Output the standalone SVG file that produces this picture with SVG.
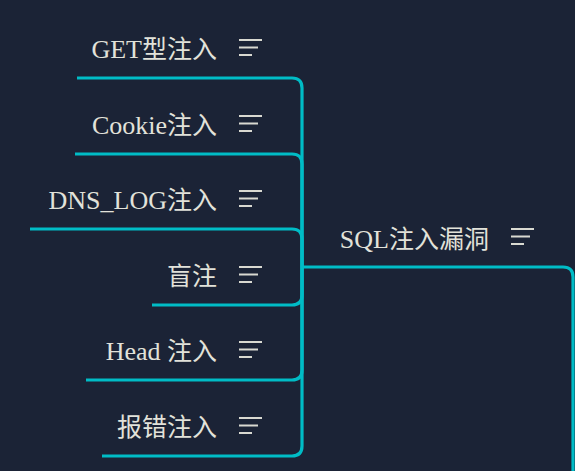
<svg xmlns="http://www.w3.org/2000/svg" width="575" height="471" viewBox="0 0 575 471">
<defs>
<style>
.bg{fill:#1b2336}
.edge{fill:none;stroke:#00bcc6;stroke-width:3.2;stroke-linecap:butt}
.lbl{font-family:"Noto Sans CJK SC","Liberation Serif",serif;font-size:25px;fill:#e2e2da;text-anchor:end}
.lat{font-family:"Liberation Serif","DejaVu Serif",serif;font-size:26px}
.ico{stroke:#d9d9d1;stroke-width:2.2;fill:none}
</style>
<g id="note-icon" class="ico">
<path d="M0,0H23M0,7.5H19M0,15H13"/>
</g>
</defs>
<rect class="bg" x="0" y="0" width="575" height="471"/>
<g id="connectors">
<path class="edge" d="M302,267V88Q302,78 292,78H77"/>
<path class="edge" d="M302,267V164Q302,154 292,154H75"/>
<path class="edge" d="M302,267V239Q302,229 292,229H30"/>
<path class="edge" d="M302,267V295Q302,305 292,305H152"/>
<path class="edge" d="M302,267V370Q302,380 292,380H86"/>
<path class="edge" d="M302,267V446Q302,456 292,456H102"/>
<path class="edge" d="M302,267H563Q573,267 573,277V471"/>
</g>
<g id="root">
<text class="lbl" x="489" y="248"><tspan class="lat">SQL</tspan>注入漏洞</text>
<use href="#note-icon" x="511" y="229"/>
</g>
<g id="n-get">
<text class="lbl" x="217" y="58"><tspan class="lat">GET</tspan>型注入</text>
<use href="#note-icon" x="239" y="40"/>
</g>
<g id="n-cookie">
<text class="lbl" x="217" y="134"><tspan class="lat">Cookie</tspan>注入</text>
<use href="#note-icon" x="239" y="116"/>
</g>
<g id="n-dns">
<text class="lbl" x="217" y="209"><tspan class="lat">DNS_LOG</tspan>注入</text>
<use href="#note-icon" x="239" y="191"/>
</g>
<g id="n-blind">
<text class="lbl" x="217" y="285">盲注</text>
<use href="#note-icon" x="239" y="267"/>
</g>
<g id="n-head">
<text class="lbl" x="217" y="360"><tspan class="lat">Head </tspan>注入</text>
<use href="#note-icon" x="239" y="342"/>
</g>
<g id="n-error">
<text class="lbl" x="217" y="436">报错注入</text>
<use href="#note-icon" x="239" y="418"/>
</g>
</svg>
